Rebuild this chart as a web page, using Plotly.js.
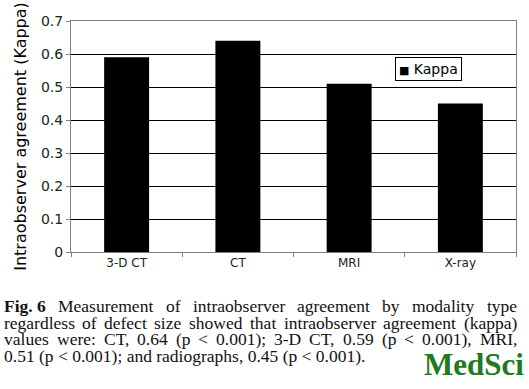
<!DOCTYPE html>
<html>
<head>
<meta charset="utf-8">
<script src="https://cdn.plot.ly/plotly-3.0.1.min.js"></script>
<style>html,body{margin:0;padding:0;background:#fff;}#chart{width:529px;height:389px;}</style>
</head>
<body>
<div id="chart"></div>
<script>
// ---- data ----
const categories = ['3-D CT', 'CT', 'MRI', 'X-ray'];
const kappa = [0.59, 0.64, 0.51, 0.45];
const seriesName = 'Kappa';
const yTickValues = [0, 0.1, 0.2, 0.3, 0.4, 0.5, 0.6, 0.7];
const yTickLabels = ['0', '0.1', '0.2', '0.3', '0.4', '0.5', '0.6', '0.7'];
const yTitle = 'Intraobserver agreement (Kappa)';
const captionBold = 'Fig. 6';
const captionLine1 = 'Measurement of intraobserver agreement by modality type';
const captionLine2 = 'regardless of defect size showed that intraobserver agreement (kappa)';
const captionLine3 = 'values were: CT, 0.64 (p < 0.001); 3-D CT, 0.59 (p < 0.001), MRI,';
const captionLine4 = '0.51 (p < 0.001); and radiographs, 0.45 (p < 0.001).';
const watermark = 'MedSci';

// ---- layout geometry ----
const W = 529, H = 389;
const M = {l: 71, r: 13, t: 21, b: 137};
const PW = W - M.l - M.r, PH = H - M.t - M.b;
const px2x = px => (px - M.l) / PW;
const py2y = py => (H - M.b - py) / PH;

const CAP_FONT = "'Liberation Serif', 'Times New Roman', serif";
const CAP_FS = 17.5;
const ctx = document.createElement('canvas').getContext('2d');
function measure(t, bold) {
  ctx.font = (bold ? 'bold ' : '') + CAP_FS + "px 'Liberation Serif'";
  return ctx.measureText(t).width;
}
const annotations = [];
function word(text, px, center, bold) {
  annotations.push({
    xref: 'paper', yref: 'paper', x: px2x(px), y: py2y(center),
    xanchor: 'left', yanchor: 'middle', showarrow: false,
    text: bold ? '<b>' + text + '</b>' : text,
    font: {family: CAP_FONT, size: CAP_FS, color: '#111'},
    borderpad: 0, borderwidth: 0
  });
}
function justify(tokens, left, right, center) {
  const widths = tokens.map(t => measure(t.text, t.bold));
  const total = widths.reduce((a, b) => a + b, 0);
  const gap = (right - left - total) / (tokens.length - 1);
  let x = left;
  tokens.forEach((t, i) => { word(t.text.replace(/</g, '&lt;'), x, center, t.bold); x += widths[i] + gap; });
}
const toks = s => s.split(' ').map(t => ({text: t, bold: false}));
const CL = 4, CR = 517;
justify([{text: captionBold, bold: true}].concat(toks(captionLine1)), CL, CR, 306);
justify(toks(captionLine2), CL, CR, 322.7);
justify(toks(captionLine3), CL, CR, 339.3);
word(captionLine4.replace(/</g, '&lt;'), CL, 356, false);

// legend box (drawn as boxed annotation)
annotations.push({
  xref: 'paper', yref: 'paper', x: px2x(395), y: py2y(57), xanchor: 'left', yanchor: 'top',
  showarrow: false, text: '<span style="font-size:11px">■</span> ' + seriesName,
  font: {family: 'DejaVu Sans', size: 14, color: '#000'},
  bordercolor: '#000', borderwidth: 1, borderpad: 3, bgcolor: '#fff'
});
// watermark
annotations.push({
  xref: 'paper', yref: 'paper', x: px2x(424), y: py2y(364), xanchor: 'left', yanchor: 'middle',
  showarrow: false, text: '<b>' + watermark + '</b>',
  font: {family: CAP_FONT, size: 31, color: '#217a21'}, borderpad: 0, borderwidth: 0
});

const trace = {
  type: 'bar', x: categories, y: kappa, name: seriesName,
  marker: {color: '#000', line: {width: 0}}, showlegend: false, hoverinfo: 'none'
};

const layout = {
  width: W, height: H, margin: M, paper_bgcolor: '#fff', plot_bgcolor: '#fff',
  bargap: 0.596, showlegend: false,
  font: {family: 'DejaVu Sans', color: '#222'},
  xaxis: {
    range: [-0.5, 3.5], showgrid: false, zeroline: false,
    showline: true, linecolor: '#808080', linewidth: 1, mirror: true,
    ticks: 'outside', tickson: 'boundaries', ticklen: 4, tickcolor: '#808080',
    tickfont: {family: 'DejaVu Sans', size: 12, color: '#222'}, automargin: false
  },
  yaxis: {
    range: [0, 0.7], tickvals: yTickValues, ticktext: yTickLabels,
    showgrid: true, gridcolor: '#000', gridwidth: 1, zeroline: false,
    showline: true, linecolor: '#808080', linewidth: 1, mirror: true,
    ticks: 'outside', ticklen: 4, tickcolor: '#808080',
    tickfont: {family: 'DejaVu Sans', size: 14, color: '#222'},
    title: {text: yTitle, font: {family: 'DejaVu Sans', size: 16, color: '#000'}, standoff: 10},
    automargin: false
  },
  annotations: annotations
};

Plotly.newPlot('chart', [trace], layout, {displayModeBar: false, staticPlot: true});
</script>
</body>
</html>
